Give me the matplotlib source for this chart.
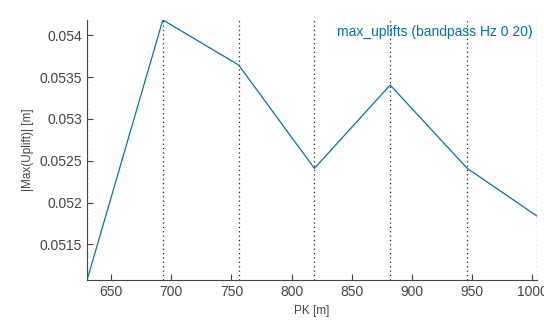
import numpy as np
import matplotlib.pyplot as plt

# data
pk = [630, 693, 756, 819, 882, 946, 1004]
max_uplift = [0.051073, 0.054183, 0.053645, 0.052409, 0.053405, 0.05241, 0.051839]
xticks = [650, 700, 750, 800, 850, 900, 950, 1000]
yticks = [0.0515, 0.052, 0.0525, 0.053, 0.0535, 0.054]

plt.rcParams['font.family'] = ['Liberation Sans', 'DejaVu Sans']
grey = '#454545'

fig = plt.figure(figsize=(5.44, 3.22), dpi=100)
ax = fig.add_axes([0.160, 0.130, 0.827, 0.808])

# vertical dotted markers at each PK
for x in pk:
    ax.axvline(x, color='#222222', linestyle=(0, (1, 2.5)), linewidth=0.9)

ax.plot(pk, max_uplift, color='#0072BD', linewidth=0.9)

ax.set_xlim(min(pk), max(pk))
ax.set_ylim(min(max_uplift), max(max_uplift))
ax.set_xticks(xticks)
ax.set_yticks(yticks)
ax.set_yticklabels([f'{v:g}' for v in yticks])

for side in ['top', 'right']:
    ax.spines[side].set_visible(False)
for side in ['left', 'bottom']:
    ax.spines[side].set_color(grey)
    ax.spines[side].set_linewidth(0.8)

ax.tick_params(direction='in', length=4, width=0.8, colors=grey,
               labelsize=10, labelcolor=grey)

ax.set_xlabel('PK [m]', fontsize=8.5, color=grey, labelpad=4)
ax.set_ylabel('|Max(Uplift)| [m]', fontsize=8.5, color=grey, labelpad=4)

ax.text(0.99, 0.955, 'max_uplifts (bandpass Hz 0 20)', transform=ax.transAxes,
        ha='right', va='center', fontsize=10, color='#0072BD')

fig.savefig('out.png', dpi=100)
